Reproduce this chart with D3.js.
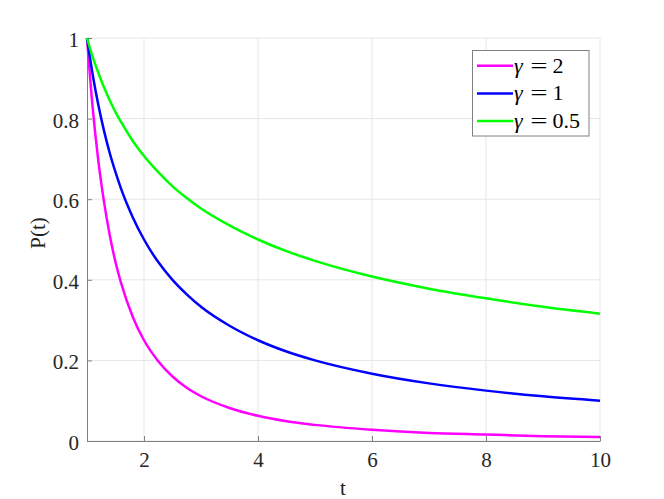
<!DOCTYPE html>
<html>
<head>
<meta charset="utf-8">
<script src="https://cdn.jsdelivr.net/npm/d3@7"></script>
<style>
  body { margin: 0; background: #fff; }
  svg text { font-family: "Liberation Serif", "Times New Roman", serif; fill: #222; }
</style>
</head>
<body>
<div id="chart"></div>
<script>
// values
var tValues = [1, 1.1, 1.2, 1.3, 1.4, 1.5, 1.6, 1.8, 2, 2.25, 2.5, 2.75, 3, 3.5, 4, 4.5, 5, 6, 7, 8, 9, 10];
var gamma2 = [1, 0.826, 0.694, 0.592, 0.510, 0.444, 0.391, 0.309, 0.25, 0.198, 0.16, 0.132, 0.111, 0.082, 0.0625, 0.049, 0.04, 0.028, 0.020, 0.016, 0.012, 0.01];
var gamma1 = [1, 0.909, 0.833, 0.769, 0.714, 0.667, 0.625, 0.556, 0.5, 0.444, 0.4, 0.364, 0.333, 0.286, 0.25, 0.222, 0.2, 0.167, 0.143, 0.125, 0.111, 0.1];
var gamma05 = [1, 0.953, 0.913, 0.877, 0.845, 0.816, 0.791, 0.745, 0.707, 0.667, 0.632, 0.603, 0.577, 0.535, 0.5, 0.471, 0.447, 0.408, 0.378, 0.354, 0.333, 0.316];
var seriesGamma = ["2", "1", "0.5"];
var seriesColors = ["#ff00ff", "#0000ff", "#00ff00"];
var xTicks = [2, 4, 6, 8, 10];
var yTicks = [0, 0.2, 0.4, 0.6, 0.8, 1];

var width = 664, height = 499;
var pLeft = 87, pRight = 600, pTop = 38, pBottom = 441;
var serif = "'Liberation Serif', 'Times New Roman', serif";

var svg = d3.select("#chart").append("svg")
  .attr("width", width)
  .attr("height", height);

var x = d3.scaleLinear().domain([1, 10]).range([pLeft, pRight]);
var y = d3.scaleLinear().domain([0, 1]).range([pBottom, pTop]);

// grid
svg.append("g").selectAll("line")
  .data(xTicks).enter().append("line")
  .attr("x1", function (d) { return x(d); })
  .attr("x2", function (d) { return x(d); })
  .attr("y1", pTop).attr("y2", pBottom)
  .style("stroke", "#e6e6e6");
svg.append("g").selectAll("line")
  .data(yTicks).enter().append("line")
  .attr("x1", pLeft).attr("x2", pRight)
  .attr("y1", function (d) { return y(d); })
  .attr("y2", function (d) { return y(d); })
  .style("stroke", "#e6e6e6");

// axes (ticks inward)
var xAxis = svg.append("g")
  .attr("transform", "translate(0," + pBottom + ")")
  .call(d3.axisBottom(x).tickValues(xTicks).tickSizeInner(-5).tickSizeOuter(0).tickPadding(11));
var yAxis = svg.append("g")
  .attr("transform", "translate(" + pLeft + ",0)")
  .call(d3.axisLeft(y).tickValues(yTicks).tickSizeInner(-5).tickSizeOuter(0).tickPadding(8)
    .tickFormat(function (d) { return d === 0 || d === 1 ? d : d3.format(".1f")(d); }));

[xAxis, yAxis].forEach(function (a) {
  a.attr("font-family", null).attr("font-size", null);
  a.select(".domain").style("stroke", "#808080");
  a.selectAll(".tick line").style("stroke", "#808080");
  a.selectAll("text")
    .style("font-family", serif)
    .style("font-size", "21px")
    .style("fill", "#262626");
});
yAxis.selectAll("text").attr("dy", "0.4em");

// lines
var allSeries = [gamma2, gamma1, gamma05];
var line = d3.line()
  .x(function (d, i) { return x(tValues[i]); })
  .y(function (d) { return y(d); })
  .curve(d3.curveMonotoneX);

svg.append("g").selectAll("path")
  .data(allSeries).enter().append("path")
  .attr("d", line)
  .attr("fill", "none")
  .attr("stroke", function (d, i) { return seriesColors[i]; })
  .attr("stroke-width", 2.5);

// axis labels
svg.append("text")
  .attr("x", 343)
  .attr("y", 495)
  .attr("text-anchor", "middle")
  .style("font-family", serif)
  .style("font-size", "21px")
  .text("t");
svg.append("text")
  .attr("transform", "translate(45,233) rotate(-90)")
  .attr("text-anchor", "middle")
  .style("font-family", serif)
  .style("font-size", "21px")
  .text("P(t)");

// legend
var legend = svg.append("g");
legend.append("rect")
  .attr("x", 472.5).attr("y", 50.5)
  .attr("width", 116.5).attr("height", 85.5)
  .attr("fill", "#fff")
  .attr("stroke", "#808080");
var items = legend.selectAll(".item")
  .data(seriesGamma).enter().append("g")
  .attr("class", "item")
  .attr("transform", function (d, i) { return "translate(0," + (65.7 + i * 27.7) + ")"; });
items.append("line")
  .attr("x1", 477).attr("x2", 513)
  .attr("y1", 0).attr("y2", 0)
  .attr("stroke", function (d, i) { return seriesColors[i]; })
  .attr("stroke-width", 2.5);
items.append("text")
  .attr("x", 514)
  .attr("y", 7)
  .style("font-family", serif)
  .style("font-size", "22px")
  .style("font-style", "italic")
  .style("fill", "#000")
  .text("\u03b3");
items.append("g")
  .attr("transform", "translate(539,7)")
  .append("text")
  .attr("transform", "scale(1.4,1)")
  .attr("text-anchor", "middle")
  .style("font-family", serif)
  .style("font-size", "22px")
  .style("fill", "#000")
  .text("=");
items.append("text")
  .attr("x", 552.5)
  .attr("y", 7)
  .style("font-family", serif)
  .style("font-size", "22px")
  .style("fill", "#000")
  .text(function (d) { return d; });
</script>
</body>
</html>
